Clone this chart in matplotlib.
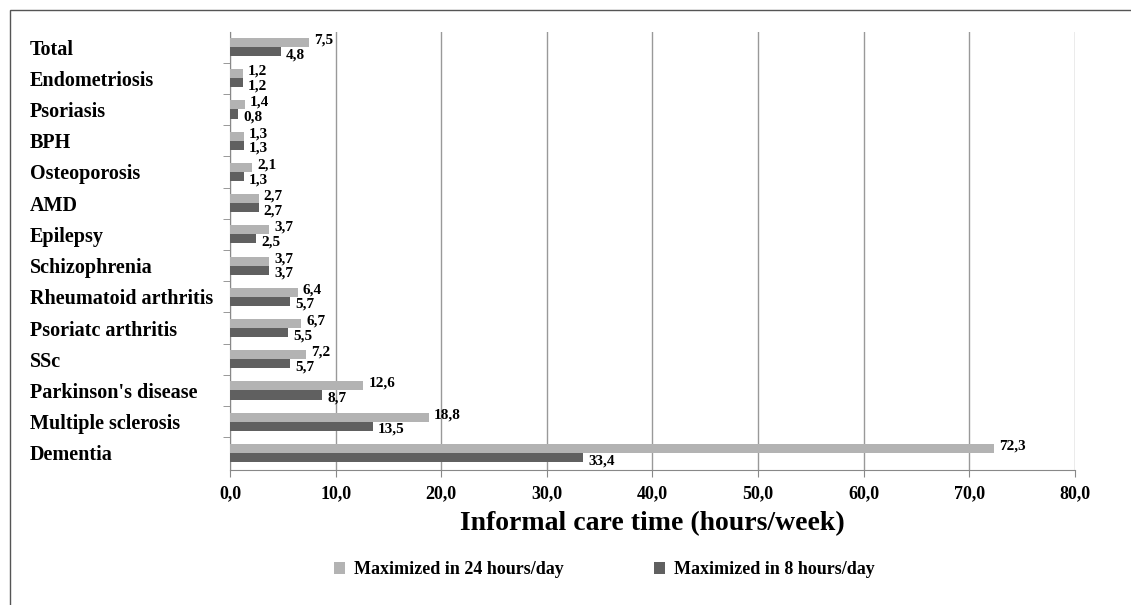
import numpy as np
import matplotlib.pyplot as plt
from matplotlib.patches import Rectangle

#### Data
categories = ['Total', 'Endometriosis', 'Psoriasis', 'BPH', 'Osteoporosis', 'AMD',
              'Epilepsy', 'Schizophrenia', 'Rheumatoid arthritis', 'Psoriatc arthritis',
              'SSc', "Parkinson's disease", 'Multiple sclerosis', 'Dementia']
max24 = [7.5, 1.2, 1.4, 1.3, 2.1, 2.7, 3.7, 3.7, 6.4, 6.7, 7.2, 12.6, 18.8, 72.3]
max8 = [4.8, 1.2, 0.8, 1.3, 1.3, 2.7, 2.5, 3.7, 5.7, 5.5, 5.7, 8.7, 13.5, 33.4]
xticks = [0, 10, 20, 30, 40, 50, 60, 70, 80]

light = '#b3b3b3'
dark = '#606060'
serif = 'Liberation Serif'

fig = plt.figure(figsize=(11.31, 6.05), dpi=100)
ax = fig.add_axes([0.2034, 0.223, 0.747, 0.724])

y = np.arange(len(categories))
h = 0.29
ax.barh(y - h / 2, max24, height=h, color=light, label='Maximized in 24 hours/day', zorder=3)
ax.barh(y + h / 2, max8, height=h, color=dark, label='Maximized in 8 hours/day', zorder=3)

# value labels
fmt = lambda v: ('%.1f' % v).replace('.', ',')
for i in range(len(categories)):
    ax.text(max24[i] + 0.5, y[i] - h / 2 - 0.08, fmt(max24[i]), fontsize=11, fontweight='bold',
            family=serif, va='center', ha='left')
    ax.text(max8[i] + 0.5, y[i] + h / 2 + 0.1, fmt(max8[i]), fontsize=11, fontweight='bold',
            family=serif, va='center', ha='left')

ax.set_ylim(13.55, -0.48)
ax.set_xlim(0, 80)
ax.set_xticks(xticks)
ax.set_xticklabels([fmt(v) for v in xticks], family=serif, fontweight='bold', fontsize=13)
ax.tick_params(axis='x', length=5, color='#888888', pad=6)

ax.set_yticks(y)
ax.set_yticklabels(categories, family=serif, fontweight='bold', fontsize=14.5, ha='left')
ax.tick_params(axis='y', which='major', length=0, pad=144)
ax.set_yticks(y[:-1] + 0.5, minor=True)
ax.tick_params(axis='y', which='minor', length=5, color='#888888')

ax.grid(axis='x', color='#999999', linewidth=1, zorder=0)
for s in ['top', 'right']:
    ax.spines[s].set_visible(False)
ax.spines['left'].set_color('#888888')
ax.spines['bottom'].set_color('#888888')

ax.set_xlabel('Informal care time (hours/week)', family=serif, fontweight='bold', fontsize=20, labelpad=6)

ax.legend(loc='center', bbox_to_anchor=(0.443, -0.228), ncol=2, frameon=False,
          prop={'family': serif, 'weight': 'bold', 'size': 13}, handlelength=0.6, handleheight=0.6,
          columnspacing=5, handletextpad=0.5)

# outer frame
fig.patches.append(Rectangle((10 / 1131, -0.01), 1.0, 1.01 - 10 / 605, transform=fig.transFigure,
                             fill=False, edgecolor='#555555', linewidth=1))

plt.savefig('out.png', dpi=100)
